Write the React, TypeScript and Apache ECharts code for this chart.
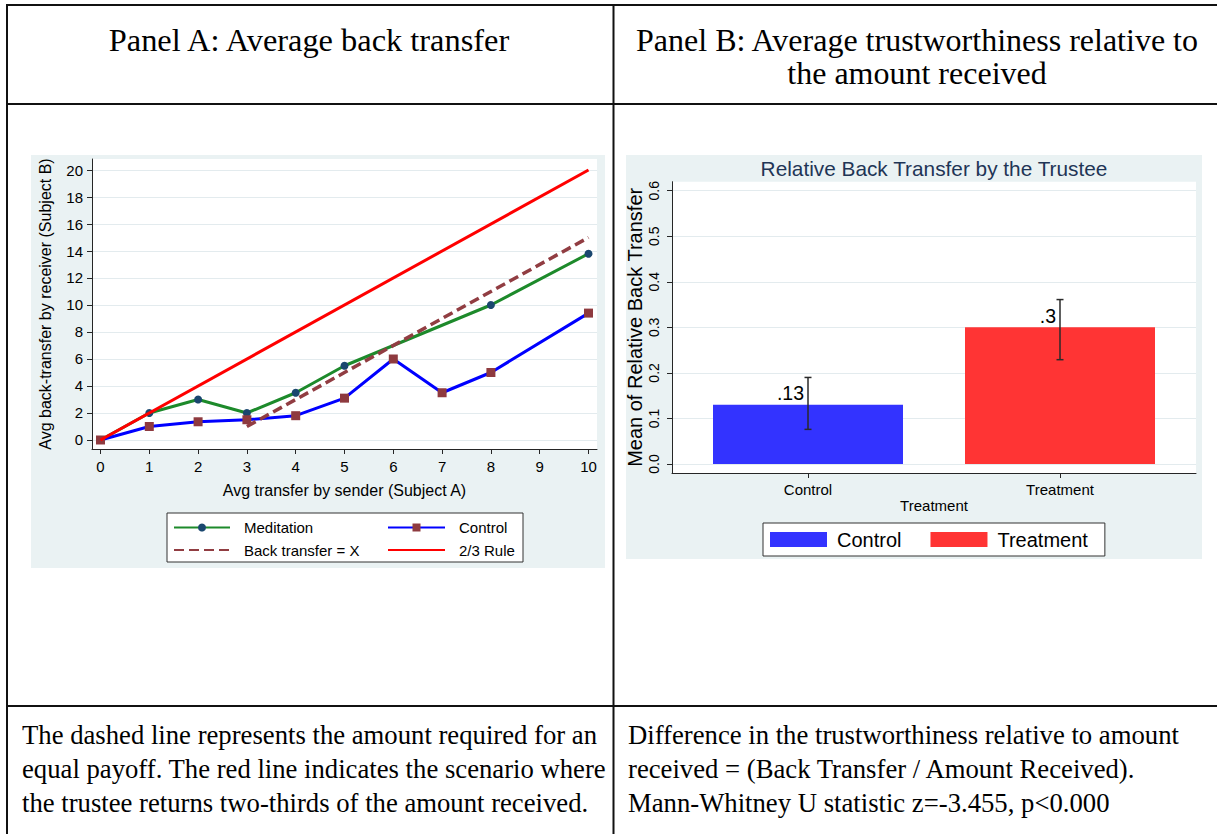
import React, { useEffect, useRef } from "react";
import * as echarts from "echarts";

const SANS = '"Liberation Sans", Arial, Helvetica, sans-serif';
const SERIF = '"Liberation Serif", "Times New Roman", serif';

// ---- Panel A: average back transfer by amount sent ----
const senderTicks = [0, 1, 2, 3, 4, 5, 6, 7, 8, 9, 10];
const receiverTicks = [0, 2, 4, 6, 8, 10, 12, 14, 16, 18, 20];
const meditationSent = [0, 1, 2, 3, 4, 5, 8, 10];
const meditationBack = [0, 2, 3, 2, 3.5, 5.5, 10, 13.8];
const controlSent = [0, 1, 2, 3, 4, 5, 6, 7, 8, 10];
const controlBack = [0, 1, 1.35, 1.5, 1.8, 3.1, 6, 3.5, 5, 9.4];
const equalPayoffSent = [3, 10];
const equalPayoffBack = [1, 15];
const twoThirdsSent = [0, 10];
const twoThirdsBack = [0, 20];

// ---- Panel B: relative back transfer by group ----
const groups = ["Control", "Treatment"];
const groupColors = ["#3333ff", "#ff3434"];
const relativeMeans = [0.13, 0.3];
const ciLower = [0.076, 0.229];
const ciUpper = [0.19, 0.361];
const relativeTicks = [0, 0.1, 0.2, 0.3, 0.4, 0.5, 0.6];

// ---- table texts ----
const headerA = "Panel A: Average back transfer";
const headerB = ["Panel B: Average trustworthiness relative to", "the amount received"];
const noteA = [
  "The dashed line represents the amount required for an",
  "equal payoff. The red line indicates the scenario where",
  "the trustee returns two-thirds of the amount received.",
];
const noteB = [
  "Difference in the trustworthiness relative to amount",
  "received = (Back Transfer / Amount Received).",
  "Mann-Whitney U statistic z=-3.455, p<0.000",
];

const zip = (xs: number[], ys: number[]) => xs.map((x, i) => [x, ys[i]]);
const PANEL_BG = "#eaf2f3";
const GRID_LINE = "#e3ebee";
const AXIS = "#262626";

function tableGraphics(): any[] {
  const line = (x1: number, y1: number, x2: number, y2: number) => ({
    type: "line",
    silent: true,
    z: 20,
    shape: { x1, y1, x2, y2 },
    style: { stroke: "#111", lineWidth: 2 },
  });
  const text = (t: string, x: number, y: number, size: number, align: string) => ({
    type: "text",
    silent: true,
    z: 20,
    x,
    y,
    style: {
      text: t,
      fontSize: size,
      fontFamily: SERIF,
      fill: "#000",
      align,
      verticalAlign: "middle",
    },
  });
  return [
    line(6, 5, 1217, 5),
    line(7, 4, 7, 834),
    line(613.5, 4, 613.5, 834),
    line(6, 104, 1217, 104),
    line(6, 706, 1217, 706),
    text(headerA, 309, 40, 32.4, "center"),
    text(headerB[0], 917, 40, 32, "center"),
    text(headerB[1], 917, 73, 32, "center"),
    ...noteA.map((t, i) => text(t, 22, 735 + i * 34, 26.7, "left")),
    ...noteB.map((t, i) => text(t, 628, 735 + i * 34, 26.7, "left")),
  ];
}

function buildOptionA(): any {
  const tickStyle = { fontSize: 15, color: "#000", fontFamily: SANS };
  const titleStyle = { fontSize: 16, color: "#000", fontFamily: SANS };
  const legendText = { fontSize: 15, color: "#000", fontFamily: SANS, padding: [0, 0, 0, 9] };
  return {
    animation: false,
    backgroundColor: "#fff",
    graphic: [
      {
        type: "rect",
        silent: true,
        z: -10,
        shape: { x: 31, y: 155, width: 574, height: 413 },
        style: { fill: PANEL_BG },
      },
      {
        type: "rect",
        silent: true,
        z: 1,
        shape: { x: 167, y: 513, width: 356, height: 49 },
        style: { fill: "#fff", stroke: "#333", lineWidth: 1 },
      },
      ...tableGraphics(),
    ],
    grid: {
      left: 92,
      top: 159,
      right: 620,
      bottom: 385,
      show: true,
      backgroundColor: "#fff",
      borderWidth: 0,
      containLabel: false,
      outerBoundsMode: "none",
    },
    xAxis: {
      type: "value",
      min: -0.174,
      max: 10.174,
      name: "Avg transfer by sender (Subject A)",
      nameLocation: "middle",
      nameGap: 33,
      nameMoveOverlap: false,
      nameTextStyle: titleStyle,
      axisLine: { show: true, onZero: false, lineStyle: { color: AXIS, width: 1 } },
      axisTick: { show: true, length: 5, customValues: senderTicks, lineStyle: { color: AXIS } },
      axisLabel: { customValues: senderTicks, margin: 10, ...tickStyle },
      splitLine: { show: false },
    },
    yAxis: {
      type: "value",
      min: -0.667,
      max: 20.815,
      name: "Avg back-transfer by receiver (Subject B)",
      nameLocation: "middle",
      nameGap: 39,
      nameMoveOverlap: false,
      nameTextStyle: titleStyle,
      axisLine: { show: true, onZero: false, lineStyle: { color: AXIS, width: 1 } },
      axisTick: { show: true, length: 5, customValues: receiverTicks, lineStyle: { color: AXIS } },
      axisLabel: { customValues: receiverTicks, margin: 9, ...tickStyle },
      splitLine: { show: true, lineStyle: { color: GRID_LINE, width: 1 } },
    },
    legend: [
      {
        orient: "vertical",
        left: 173,
        top: 520,
        padding: 0,
        itemWidth: 56,
        itemHeight: 10,
        itemGap: 7.6,
        selectedMode: false,
        textStyle: legendText,
        data: ["Meditation", { name: "Back transfer = X", itemStyle: { opacity: 0 } }],
      },
      {
        orient: "vertical",
        left: 387,
        top: 520,
        padding: 0,
        itemWidth: 57,
        itemHeight: 10,
        itemGap: 7.6,
        selectedMode: false,
        textStyle: legendText,
        data: ["Control", { name: "2/3 Rule", itemStyle: { opacity: 0 } }],
      },
    ],
    series: [
      {
        name: "Meditation",
        type: "line",
        data: zip(meditationSent, meditationBack),
        symbol: "circle",
        symbolSize: 8,
        lineStyle: { color: "#1d8a2b", width: 3 },
        itemStyle: { color: "#1a476f" },
        z: 3,
      },
      {
        name: "Control",
        type: "line",
        data: zip(controlSent, controlBack),
        symbol: "rect",
        symbolSize: 9,
        lineStyle: { color: "#0000ff", width: 3 },
        itemStyle: { color: "#8e3a3f" },
        z: 3,
      },
      {
        name: "Back transfer = X",
        type: "line",
        data: zip(equalPayoffSent, equalPayoffBack),
        symbol: "none",
        lineStyle: { color: "#913d42", width: 3.5, type: [10, 5] },
        itemStyle: { color: "#913d42" },
        z: 4,
      },
      {
        name: "2/3 Rule",
        type: "line",
        data: zip(twoThirdsSent, twoThirdsBack),
        symbol: "none",
        lineStyle: { color: "#ff0000", width: 3 },
        itemStyle: { color: "#ff0000" },
        z: 4,
      },
    ],
  };
}

function buildOptionB(): any {
  const tickStyle = { fontSize: 15, color: "#000", fontFamily: SANS };
  return {
    animation: false,
    graphic: [
      {
        type: "rect",
        silent: true,
        z: -10,
        shape: { x: 10, y: 49, width: 576, height: 404 },
        style: { fill: PANEL_BG },
      },
      {
        type: "text",
        silent: true,
        x: 318,
        y: 62,
        style: {
          text: "Relative Back Transfer by the Trustee",
          fontSize: 20.8,
          fontFamily: SANS,
          fill: "#1f3556",
          align: "center",
          verticalAlign: "middle",
        },
      },
    ],
    grid: {
      left: 56,
      right: 21,
      top: 75.7,
      bottom: 231,
      show: true,
      backgroundColor: "#fff",
      borderWidth: 0,
      containLabel: false,
      outerBoundsMode: "none",
    },
    xAxis: {
      type: "value",
      min: -0.5397,
      max: 1.5397,
      name: "Treatment",
      nameLocation: "middle",
      nameGap: 25,
      nameMoveOverlap: false,
      nameTextStyle: tickStyle,
      axisLine: { show: true, onZero: false, lineStyle: { color: AXIS, width: 1 } },
      axisTick: { show: true, length: 5, customValues: [0, 1], lineStyle: { color: AXIS } },
      axisLabel: {
        customValues: [0, 1],
        margin: 9,
        formatter: (v: number) => groups[Math.round(v)],
        ...tickStyle,
      },
      splitLine: { show: false },
    },
    yAxis: {
      type: "value",
      min: -0.0198,
      max: 0.6198,
      name: "Mean of Relative Back Transfer",
      nameLocation: "middle",
      nameGap: 27,
      nameMoveOverlap: false,
      nameTextStyle: { ...tickStyle, fontSize: 20 },
      axisLine: { show: true, onZero: false, lineStyle: { color: AXIS, width: 1 } },
      axisTick: { show: true, length: 5, customValues: relativeTicks, lineStyle: { color: AXIS } },
      axisLabel: {
        customValues: relativeTicks,
        rotate: 90,
        margin: 11,
        formatter: (v: number) => v.toFixed(1),
        ...tickStyle,
        fontSize: 14,
      },
      splitLine: { show: true, lineStyle: { color: GRID_LINE, width: 1 } },
    },
    legend: {
      data: groups,
      left: 147,
      top: 417,
      orient: "horizontal",
      icon: "rect",
      itemWidth: 57,
      itemHeight: 15,
      itemGap: 29,
      padding: [6.5, 17, 6.5, 7],
      backgroundColor: "#fff",
      borderColor: "#333",
      borderWidth: 1,
      selectedMode: false,
      textStyle: { fontSize: 20, color: "#000", fontFamily: SANS, padding: [0, 0, 0, 5] },
    },
    series: [
      ...groups.map((g, i) => ({
        name: g,
        type: "bar",
        data: [[i, relativeMeans[i]]],
        barWidth: 190,
        barGap: "-100%",
        itemStyle: { color: groupColors[i] },
        label: {
          show: true,
          position: "top",
          distance: 1.5,
          align: "right",
          offset: [-4, 0],
          fontSize: 19.5,
          color: "#000",
          fontFamily: SANS,
          formatter: (p: any) => String(p.value[1]).replace(/^0(?=\.)/, ""),
        },
        z: 2,
      })),
      {
        name: "95% CI",
        type: "custom",
        data: groups.map((_, i) => [i, ciLower[i], ciUpper[i]]),
        encode: { x: 0, y: [1, 2] },
        z: 5,
        renderItem: (_params: any, api: any) => {
          const x = api.value(0);
          const lo = api.coord([x, api.value(1)]);
          const hi = api.coord([x, api.value(2)]);
          const cap = 3.5;
          const style = { stroke: "#2a2a2a", lineWidth: 1.5 };
          return {
            type: "group",
            children: [
              { type: "line", shape: { x1: lo[0], y1: lo[1], x2: hi[0], y2: hi[1] }, style },
              { type: "line", shape: { x1: lo[0] - cap, y1: lo[1], x2: lo[0] + cap, y2: lo[1] }, style },
              { type: "line", shape: { x1: hi[0] - cap, y1: hi[1], x2: hi[0] + cap, y2: hi[1] }, style },
            ],
          };
        },
      },
    ],
  };
}

export default function App() {
  const refA = useRef<HTMLDivElement>(null);
  const refB = useRef<HTMLDivElement>(null);

  useEffect(() => {
    const chartA = echarts.init(refA.current!, null, { renderer: "svg" });
    chartA.setOption(buildOptionA());
    const chartB = echarts.init(refB.current!, null, { renderer: "svg" });
    chartB.setOption(buildOptionB());
    return () => {
      chartA.dispose();
      chartB.dispose();
    };
  }, []);

  return (
    <div style={{ position: "absolute", left: 0, top: 0, width: 1217, height: 834, background: "#fff" }}>
      <div ref={refA} style={{ position: "absolute", left: 0, top: 0, width: 1217, height: 834 }} />
      <div ref={refB} style={{ position: "absolute", left: 616, top: 106, width: 601, height: 598 }} />
    </div>
  );
}
